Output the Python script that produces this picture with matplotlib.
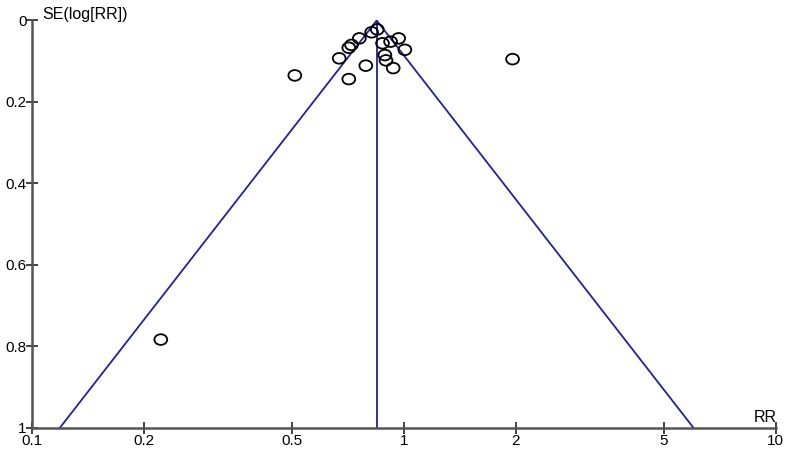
import numpy as np
import matplotlib
matplotlib.use("Agg")
import matplotlib.pyplot as plt
from matplotlib.path import Path
from matplotlib.transforms import Affine2D

plt.rcParams['font.family'] = ['Liberation Sans', 'DejaVu Sans']

# Study estimates
rr = [0.509, 0.670, 0.711, 0.711, 0.723, 0.759, 0.790, 0.819, 0.848,
      0.876, 0.889, 0.895, 0.921, 0.968, 0.936, 1.006, 1.96, 0.222]
se = [0.135, 0.093, 0.144, 0.067, 0.060, 0.044, 0.111, 0.029, 0.022,
      0.056, 0.085, 0.098, 0.052, 0.044, 0.117, 0.072, 0.095, 0.784]
pooled_rr = 0.845
x_ticks = [0.1, 0.2, 0.5, 1, 2, 5, 10]
x_tick_labels = ["0.1", "0.2", "0.5", "1", "2", "5", "10"]
y_ticks = [0, 0.2, 0.4, 0.6, 0.8, 1]
y_tick_labels = ["0", "0.2", "0.4", "0.6", "0.8", "1"]

fig = plt.figure(figsize=(7.9, 4.5), dpi=100)
ax = fig.add_axes([0.0405, 0.05, 0.9415, 0.9045])

line_color = "#2020a0"
se_max = 1.0
ax.plot([pooled_rr, pooled_rr], [0, se_max], color=line_color, lw=1.3)
ax.plot([pooled_rr * np.exp(-1.96 * se_max), pooled_rr, pooled_rr * np.exp(1.96 * se_max)],
        [se_max, 0, se_max], color=line_color, lw=1.3)

ellipse = Path.unit_circle().transformed(Affine2D().scale(1.2, 1.0))
ax.scatter(rr, se, marker=ellipse, s=85, facecolors="none", edgecolors="black",
           linewidths=1.3, zorder=3, clip_on=False)

ax.set_xscale("log")
ax.set_xlim(0.1, 10)
ax.set_ylim(1, 0)
ax.set_xticks(x_ticks)
ax.set_xticklabels(x_tick_labels)
ax.xaxis.set_minor_locator(matplotlib.ticker.NullLocator())
ax.set_yticks(y_ticks)
ax.set_yticklabels(y_tick_labels)

for s in ["top", "right"]:
  ax.spines[s].set_visible(False)
for s in ["left", "bottom"]:
  ax.spines[s].set_color("#555555")
  ax.spines[s].set_linewidth(1.8)
ax.tick_params(axis="both", direction="inout", length=8, width=1.3, color="#333333",
               labelsize=11)
ax.tick_params(axis="x", pad=1)
ax.tick_params(axis="y", pad=0)

fig.text(42 / 790, 1 - 14 / 450, "SE(log[RR])", ha="left", va="center", fontsize=11.5)
fig.text(765 / 790, 1 - 418 / 450, "RR", ha="center", va="center", fontsize=11.5)

fig.savefig("out.png", dpi=100)
